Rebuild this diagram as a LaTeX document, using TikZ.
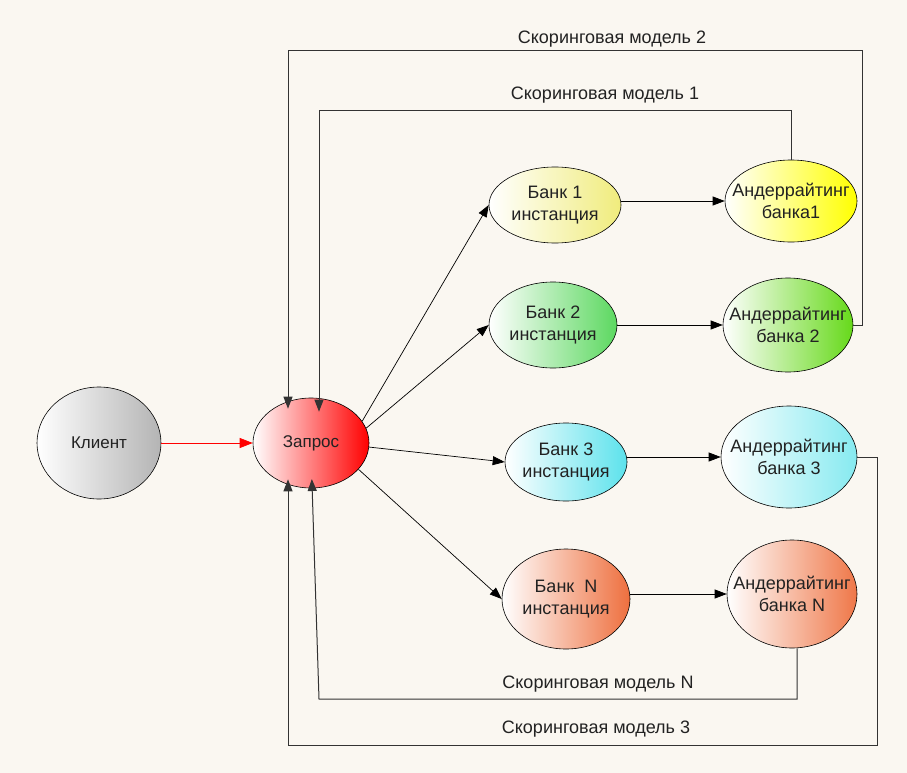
\documentclass[tikz,border=0pt]{standalone}
\usepackage{fontspec}
\setmainfont{Liberation Sans}
\usetikzlibrary{shapes.geometric,arrows.meta,calc}
\definecolor{bg}{HTML}{FAF7F1}
\definecolor{txt}{HTML}{222222}
\definecolor{gy}{HTML}{B4B4B4}
\definecolor{rd}{HTML}{FF0000}
\definecolor{ya}{HTML}{F0EC7C}
\definecolor{yb}{HTML}{FFFF00}
\definecolor{ga}{HTML}{5CD860}
\definecolor{gb}{HTML}{66D91A}
\definecolor{ca}{HTML}{5CE2EC}
\definecolor{cb}{HTML}{86EAF0}
\definecolor{oa}{HTML}{EE6F3E}
\definecolor{ob}{HTML}{EF7748}
\definecolor{loopc}{HTML}{333333}
\begin{document}
\begin{tikzpicture}[x=1pt,y=-1pt,
  ell/.style={ellipse, draw=black, line width=0.6pt, inner sep=-25pt, align=center,
    font=\fontsize{18}{22}\selectfont, text=txt, left color=white},
  arr/.style={-{Triangle[length=12pt,width=9pt]}, line width=0.7pt, draw=black},
  loopline/.style={arr, draw=loopc, line width=1pt},
  lbl/.style={font=\fontsize{18}{22}\selectfont, text=txt, inner sep=0pt}]
\fill[bg] (0,0) rectangle (907,773);
\useasboundingbox (0,0) rectangle (907,773);

\node[ell, font=\fontsize{17}{21}\selectfont, right color=gy, minimum width=124pt, minimum height=112pt] (client) at (99,443) {Клиент};
\node[ell, font=\fontsize{17}{21}\selectfont, right color=rd, minimum width=116pt, minimum height=90pt] (req) at (311,443) {Запрос};
\node[ell, right color=ya, minimum width=132pt, minimum height=76pt] (b1) at (555,205) {Банк 1\\инстанция};
\node[ell, right color=yb, minimum width=132pt, minimum height=82pt] (u1) at (791,201) {Андеррайтинг\\банка1};
\node[ell, right color=ga, minimum width=128pt, minimum height=86pt] (b2) at (553,325) {Банк 2\\инстанция};
\node[ell, right color=gb, minimum width=130pt, minimum height=94pt] (u2) at (788,325) {Андеррайтинг\\банка 2};
\node[ell, right color=ca, minimum width=122pt, minimum height=78pt] (b3) at (566,462) {Банк 3\\инстанция};
\node[ell, right color=cb, minimum width=136pt, minimum height=102pt] (u3) at (789,457) {Андеррайтинг\\банка 3};
\node[ell, right color=oa, minimum width=128pt, minimum height=100pt] (bN) at (566,599) {Банк\ \ N\\инстанция};
\node[ell, right color=ob, minimum width=130pt, minimum height=108pt] (uN) at (792,594) {Андеррайтинг\\банка N};

% client to request
\draw[arr, draw=rd, -{Triangle[length=13pt,width=10pt,fill=rd]}] (client.east) -- (req.west);

% request to banks
\draw[arr] (req.23) -- (b1.west);
\draw[arr] (req.15) -- (b2.west);
\draw[arr] (req.-4) -- (b3.west);
\draw[arr] (req.-29) -- (bN.west);

% banks to underwriting
\draw[arr] (b1.east |- u1) -- (u1.west);
\draw[arr] (b2.east) -- (u2.west);
\draw[arr] (b3.east |- u3) -- (u3.west);
\draw[arr] (bN.east |- uN) -- (uN.west);

% loop coordinates
\coordinate (m1a) at (791,111);
\coordinate (m1b) at (319,111);
\coordinate (m2a) at (862,51);
\coordinate (m2b) at (288,51);
\coordinate (m3a) at (877,745);
\coordinate (m3b) at (288,745);
\coordinate (mNa) at (797,699);
\coordinate (mNb) at (319,699);
\coordinate (mNend) at (312,484);

% scoring model loops
\draw[loopline, shorten >=-14pt] (u1.north) -- (m1a) -- (m1b) -- (m1b |- req.north);
\draw[loopline, shorten >=-11pt] (u2.east) -- (m2a |- u2.east) -- (m2a) -- (m2b) -- (m2b |- req.north);
\draw[loopline, shorten >=-9pt] (u3.east) -- (m3a |- u3.east) -- (m3a) -- (m3b) -- (m3b |- req.south);
\draw[loopline, shorten >=-5pt] (mNa |- uN.south) -- (mNa) -- (mNb) -- (mNend);

% labels
\node[lbl] (l2) at (612,39) {Скоринговая модель 2};
\node[lbl] (l1) at (605,95) {Скоринговая модель 1};
\node[lbl] (lN) at (598,684) {Скоринговая модель N};
\node[lbl] (l3) at (596,729) {Скоринговая модель 3};
\end{tikzpicture}
\end{document}
